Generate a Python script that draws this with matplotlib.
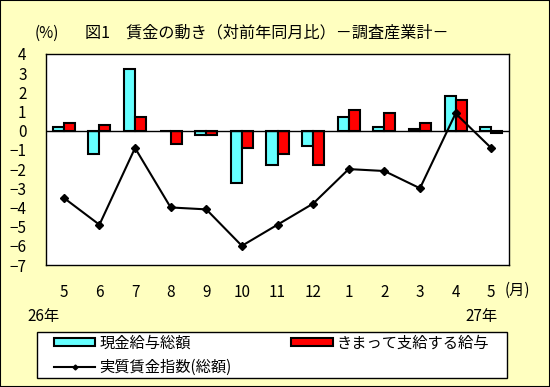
import numpy as np
import matplotlib.pyplot as plt
from matplotlib.patches import Rectangle, Patch
from matplotlib.lines import Line2D

plt.rcParams['font.family'] = ['Noto Sans CJK JP', 'DejaVu Sans']

# data (% change from same month of previous year)
months = ["5", "6", "7", "8", "9", "10", "11", "12", "1", "2", "3", "4", "5"]
cash_total = [0.2, -1.2, 3.2, 0.0, -0.2, -2.7, -1.8, -0.8, 0.7, 0.2, 0.1, 1.8, 0.2]
scheduled = [0.4, 0.3, 0.7, -0.7, -0.2, -0.9, -1.2, -1.8, 1.1, 0.9, 0.4, 1.6, -0.1]
real_index = [-3.5, -4.9, -0.9, -4.0, -4.1, -6.0, -4.9, -3.8, -2.0, -2.1, -3.0, 0.9, -0.9]

BG = "#ffffc0"
W, H = 550, 387

fig = plt.figure(figsize=(5.5, 3.87), dpi=100, facecolor=BG)
fig.patches.append(Rectangle((0, 0), 1, 1, transform=fig.transFigure,
                             fill=False, edgecolor="black", linewidth=1.5))

ax = fig.add_axes([46 / W, 1 - 265 / H, 463 / W, 211 / H])
x = np.arange(len(months))
bw = 0.31
ax.bar(x - bw / 2, cash_total, bw, color="#66ffff", edgecolor="black", linewidth=1.5)
ax.bar(x + bw / 2, scheduled, bw, color="#ff0000", edgecolor="black", linewidth=1.5)
ax.axhline(0, color="black", linewidth=1)
ax.plot(x, real_index, color="black", linewidth=1.5, marker="D", markersize=4)

ax.set_xlim(-0.5, len(months) - 0.5)
ax.set_ylim(-7, 4)
ax.set_yticks(range(-7, 5))
ax.set_yticklabels([str(v).replace("-", "−") for v in range(-7, 5)])
ax.set_xticks(x)
ax.set_xticklabels(months)
ax.tick_params(length=0, labelsize=11)
ax.tick_params(axis="x", pad=14)
ax.tick_params(axis="y", pad=14)
for s in ax.spines.values():
    s.set_linewidth(1)

fig.text(35 / W, 1 - 33 / H, "(%)", fontsize=11, va="center")
fig.text(85 / W, 1 - 33 / H, "図1　賃金の動き（対前年同月比）－調査産業計－", fontsize=11.6, va="center")
fig.text(505 / W, 1 - 290 / H, "(月)", fontsize=11, va="center")
fig.text(27 / W, 1 - 317 / H, "26年", fontsize=11, va="center")
fig.text(465 / W, 1 - 317 / H, "27年", fontsize=11, va="center")

# legend box drawn separately, entries placed inside it
fig.patches.append(Rectangle((37 / W, 1 - 378 / H), 470 / W, 46 / H, transform=fig.transFigure,
                             facecolor="white", edgecolor="black", linewidth=1))
handles = [Patch(facecolor="#66ffff", edgecolor="black", linewidth=1.5),
           Line2D([], [], color="black", linewidth=1.5, marker="D", markersize=2.5),
           Patch(facecolor="#ff0000", edgecolor="black", linewidth=1.5)]
labels = ["現金給与総額", "実質賃金指数(総額)", "きまって支給する給与"]
leg = fig.legend(handles, labels, ncol=2, mode="expand",
                 bbox_to_anchor=(54 / W, 1 - 377 / H, 435 / W, 44 / H), loc="center",
                 fontsize=11, frameon=False, borderpad=0, borderaxespad=0,
                 handlelength=2.7, handleheight=0.5, labelspacing=0.45,
                 handletextpad=0.25)

fig.savefig("out.png", dpi=100, facecolor=BG)
